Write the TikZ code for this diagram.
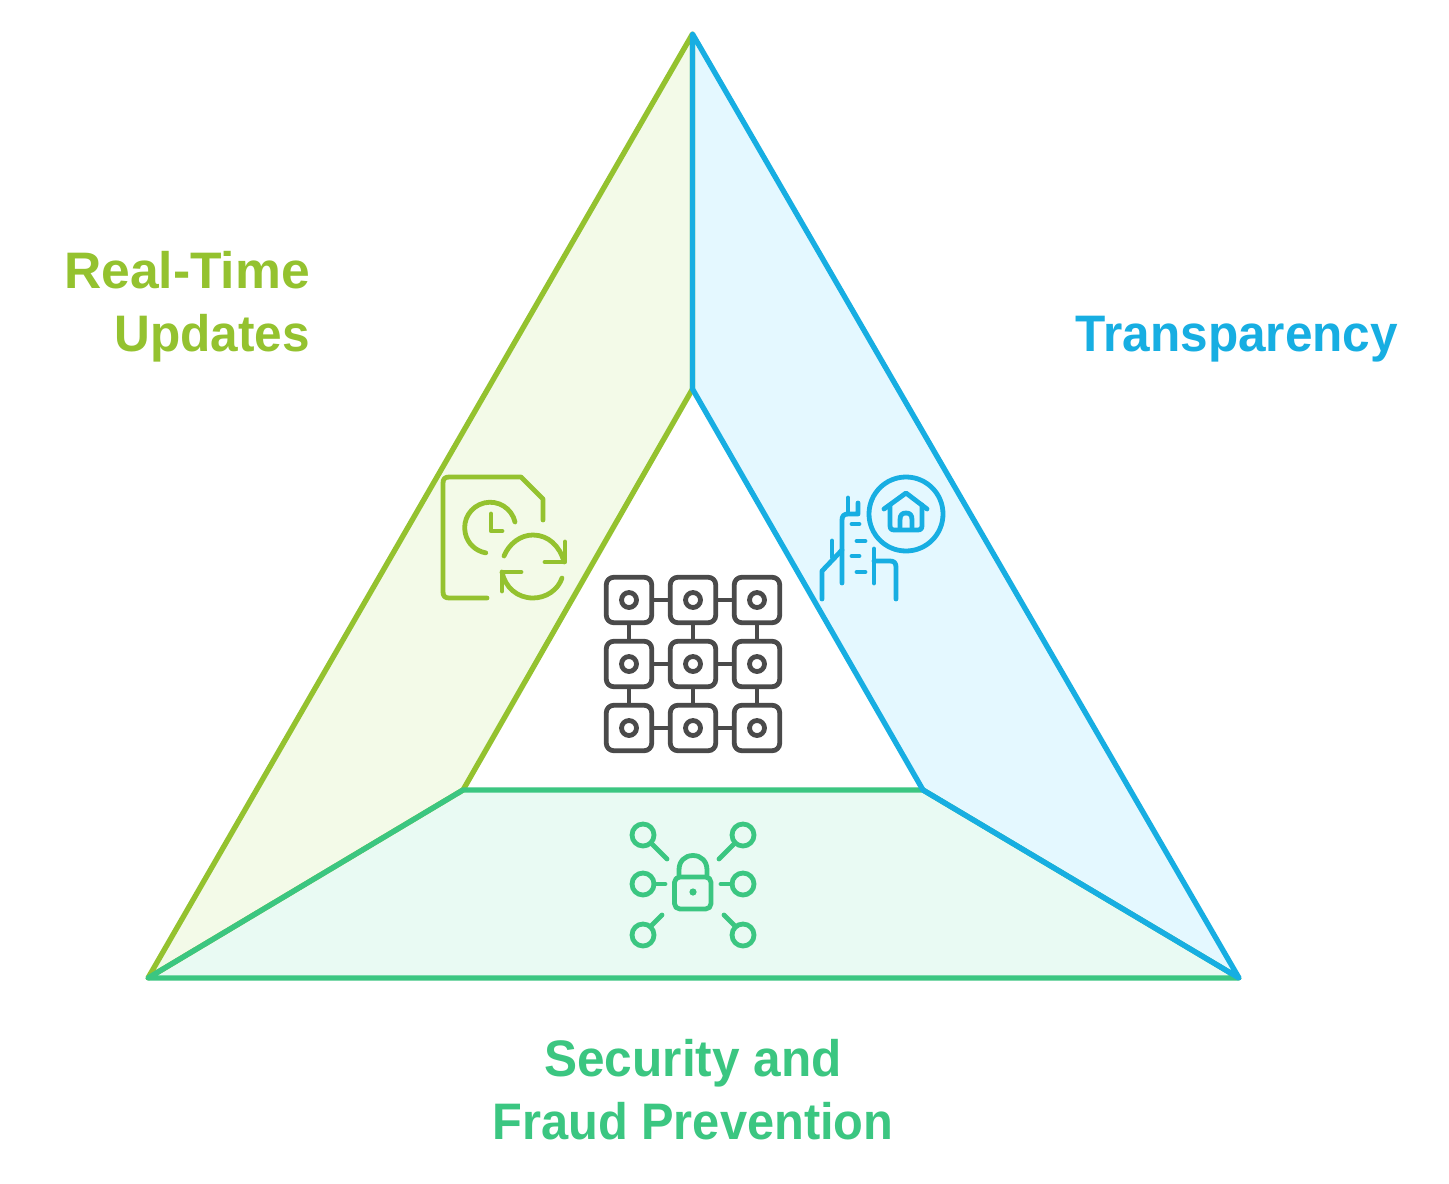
\documentclass[tikz,border=0pt]{standalone}
\usepackage{fontspec}
\setmainfont{Liberation Sans}[FakeStretch=0.965]
\newfontfamily\widelab{Liberation Sans}[FakeStretch=1.005]
\newfontfamily\narrowlab{Liberation Sans}[FakeStretch=0.95]
\definecolor{cyl}{HTML}{94C22F}
\definecolor{cylf}{HTML}{F3FAE8}
\definecolor{cbl}{HTML}{17AEE2}
\definecolor{cblf}{HTML}{E4F8FF}
\definecolor{cgr}{HTML}{3BC681}
\definecolor{cgrf}{HTML}{E9FAF3}
\definecolor{cdk}{HTML}{4A4A4A}
\tikzset{
  edge/.style={line width=4pt,line cap=round,line join=round},
  ico/.style={line width=3.6pt,line cap=round,line join=round},
  lab/.style={font=\bfseries\fontsize{38.5}{47.2}\selectfont,align=center,inner sep=0pt},
}
\begin{document}
\begin{tikzpicture}[x=0.75pt,y=-0.75pt]
\useasboundingbox (0,0) rectangle (1449,1184);
\fill[white] (0,0) rectangle (1449,1184);
\coordinate (A) at (692.5,34);
\coordinate (L) at (148,978);
\coordinate (R) at (1239,978);
\coordinate (a) at (692.5,389);
\coordinate (l) at (463,790);
\coordinate (r) at (923,790);
% faces
\fill[cylf] (A) -- (a) -- (l) -- (L) -- cycle;
\fill[cgrf] (L) -- (l) -- (r) -- (R) -- cycle;
\fill[cblf] (A) -- (R) -- (r) -- (a) -- cycle;
% outlines
\draw[edge,cyl] (a) -- (l) -- (L) -- (A) -- (a);
\draw[edge,cgr] (L) -- (l) -- (r) -- (R) -- cycle;
\draw[edge,cbl] (A) -- (R) -- (r) -- (a) -- cycle;
% labels
\node[lab,text=cyl,align=right,anchor=east] (t1) at (310,307) {{\widelab\bfseries Real-Time}\\Updates};
\node[lab,text=cbl,anchor=center] (t2) at (1237,339) {Transparency};
\node[lab,text=cgr] (t3) at (693,1090) {Security and\\{\narrowlab\bfseries Fraud Prevention}};
% document icon
\begin{scope}[ico,cyl]
\draw (487,598) -- (449,598) .. controls (445,598) and (443,596) .. (443,592) -- (443,483) .. controls (443,479) and (445,477) .. (449,477) -- (521,477) -- (543,499) -- (543,520);
\draw (515,522) arc[start angle=-13,end angle=-260,radius=25.5];
\draw (491,514) -- (491,531) -- (502,531);
\draw (504,556) .. controls (509,544) and (520,535) .. (533,535) .. controls (548,535) and (560,546) .. (564,562);
\draw (565,542) -- (565,562) -- (545,562);
\draw (562,578) .. controls (558,590) and (546,598) .. (533,598) .. controls (517,598) and (505,587) .. (502,572);
\draw (502,591) -- (502,572) -- (521,572);
\end{scope}
% building / house icon
\begin{scope}[ico,cbl]
\draw (906,514) circle[radius=37*0.75pt];
\draw (884,509) -- (906,493) -- (927,509);
\draw (890,505) -- (890,525) .. controls (890,529) and (891,530) .. (895,530) -- (917,530) .. controls (921,530) and (922,529) .. (922,525) -- (922,505);
\draw (900,529) -- (900,520) .. controls (900,515) and (902,513) .. (906,513) .. controls (910,513) and (912,515) .. (912,520) -- (912,529);
\draw (848,498) -- (848,513);
\draw (858,503) -- (858,514) -- (848,514) .. controls (844,514) and (842,516) .. (842,520) -- (842,583);
\draw (852,524) -- (859,524);
\draw (857,541) -- (865,541);
\draw (852,556) -- (859,556);
\draw (857,572) -- (865,572);
\draw (874,549) -- (874,583);
\draw (874,561) -- (890,561) .. controls (894,561) and (896,563) .. (896,567) -- (896,599);
\draw (832,541) -- (832,557);
\draw (842,550) -- (822,571) -- (822,599);
\end{scope}
% chain grid icon
\begin{scope}[ico,cdk]
\foreach \x/\i in {629/0,693/1,757/2}{
  \foreach \y/\j in {600/0,664/1,728/2}{
    \draw[rounded corners=5.5pt] (\x-22.7,\y-22.7) rectangle (\x+22.7,\y+22.7);
    \draw (\x,\y) circle[radius=7.5*0.75pt];
  }
}
\foreach \y in {600,664,728}{
  \draw[line cap=butt] (651.7,\y) -- (670.3,\y);
  \draw[line cap=butt] (715.7,\y) -- (734.3,\y);
}
\foreach \x in {629,693,757}{
  \draw[line cap=butt] (\x,622.7) -- (\x,641.3);
  \draw[line cap=butt] (\x,686.7) -- (\x,705.3);
}
\end{scope}
% lock icon
\begin{scope}[ico,cgr]
\foreach \x/\y in {643/835,743/835,643/884,743/884,643/935,743/935}{
  \draw (\x,\y) circle[radius=11*0.75pt];
}
\draw (652,844) -- (667,859);
\draw (734,844) -- (719,859);
\draw (654,884) -- (665,884);
\draw (732,884) -- (721,884);
\draw (662,915) -- (651,926);
\draw (724,915) -- (735,926);
\draw[rounded corners=4pt] (674.5,877) rectangle (711,909);
\draw (679,877) -- (679,870) .. controls (679,861) and (685,855.5) .. (693,855.5) .. controls (701,855.5) and (707,861) .. (707,870) -- (707,877);
\fill (693,892) circle[radius=3.6*0.75pt];
\end{scope}
\end{tikzpicture}
\end{document}
